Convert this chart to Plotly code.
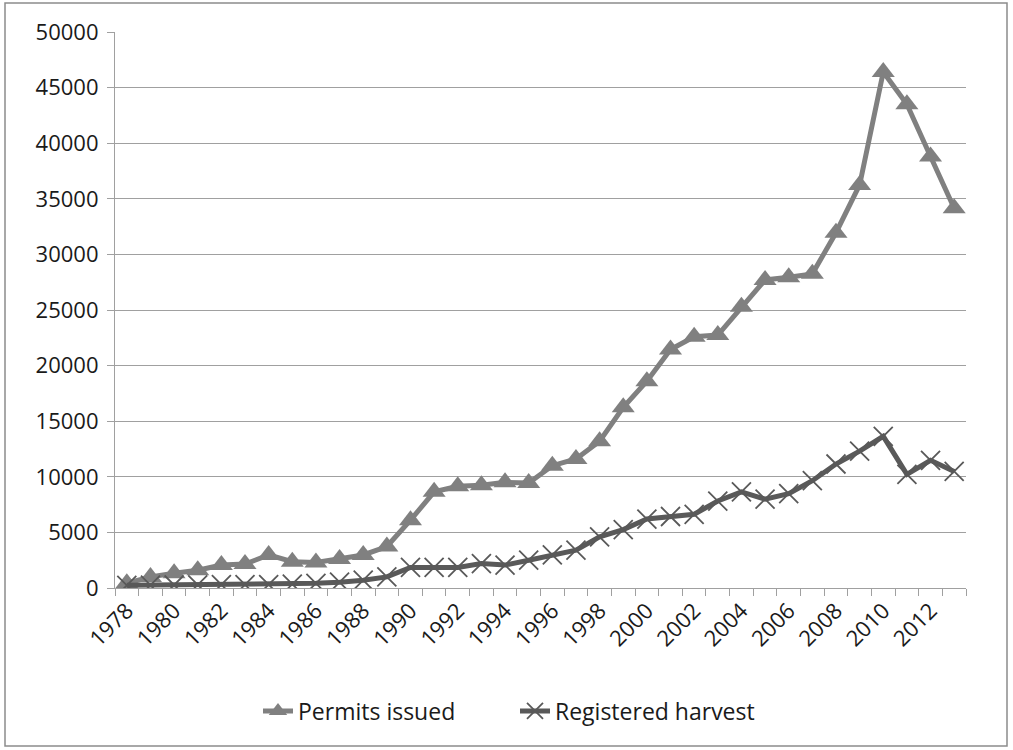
import plotly.graph_objects as go

years = list(range(1978, 2014))
permits_issued = [430, 1000, 1330, 1600, 2060, 2150, 2970, 2360, 2300, 2600, 2970, 3730,
                  6100, 8650, 9150, 9250, 9500, 9450, 11000, 11600, 13200, 16250,
                  18600, 21450, 22600, 22750, 25300, 27700, 27950, 28250, 31950, 36250,
                  46400, 43500, 38800, 34150]
registered_harvest = [240, 250, 270, 290, 300, 300, 310, 350, 420, 520, 700, 1000,
                      1850, 1850, 1850, 2200, 2060, 2500, 2970, 3400, 4600, 5250,
                      6200, 6430, 6630, 7820, 8650, 7990, 8490, 9650, 11150, 12310,
                      13640, 10220, 11480, 10480]
tick_years = list(range(1978, 2013, 2))

font_family = "Open Sans, DejaVu Sans, sans-serif"
txt_color = "#1a1a1a"

fig = go.Figure()
fig.add_trace(go.Scatter(
    x=years, y=permits_issued, name="Permits issued", mode="lines+markers",
    line=dict(color="#808080", width=5),
    marker=dict(symbol="triangle-up", size=20, color="#808080"),
))
fig.add_trace(go.Scatter(
    x=years, y=registered_harvest, name="Registered harvest", mode="lines+markers",
    line=dict(color="#595959", width=5),
    marker=dict(symbol="x-thin", size=19, color="#595959",
                line=dict(color="#595959", width=1.8)),
))

L, R, T, B = 115, 47, 32, 162
W, H = 1013, 750
pw, ph = W - L - R, H - T - B

def px_x(p):
    return (p - L) / pw

def px_y(p):
    return (H - B - p) / ph

fig.add_shape(type="rect", xref="paper", yref="paper",
              x0=px_x(5), x1=px_x(1007), y0=px_y(746), y1=px_y(3),
              line=dict(color="#8C8C8C", width=1.5), fillcolor="rgba(0,0,0,0)")

fig.update_layout(
    width=W, height=H,
    margin=dict(l=L, r=R, t=T, b=B, pad=0),
    paper_bgcolor="white", plot_bgcolor="white",
    font=dict(family=font_family, size=22, color=txt_color),
    showlegend=True,
    legend=dict(orientation="h", x=px_x(258), xanchor="left", y=px_y(711), yanchor="middle",
                font=dict(size=23, family=font_family, color=txt_color),
                itemwidth=30, entrywidth=212, tracegroupgap=0, bgcolor="rgba(0,0,0,0)"),
    xaxis=dict(
        range=[1977.5, 2013.5], tickmode="array", tickvals=tick_years,
        ticktext=[str(y) for y in tick_years], tickangle=-45, ticks="",
        showgrid=False, zeroline=False, showline=True, linecolor="#A0A0A0", linewidth=1.2,
        tickfont=dict(size=22, family=font_family, color=txt_color),
        minor=dict(tick0=1977.5, dtick=1, ticks="outside", ticklen=7,
                   tickcolor="#A0A0A0", tickwidth=1, showgrid=False),
    ),
    yaxis=dict(
        range=[0, 50000], dtick=5000, tick0=0, tickformat="d", ticks="outside", ticklen=7,
        tickcolor="#A0A0A0", showgrid=True, gridcolor="#A0A0A0", gridwidth=1,
        zeroline=False, showline=True, linecolor="#A0A0A0", linewidth=1.2,
        tickfont=dict(size=22, family=font_family, color=txt_color),
        ticklabelstandoff=4,
    ),
)

fig.write_html("out.html", config={"displayModeBar": False},
               post_script="document.body.style.margin='0';document.body.style.padding='0';")
